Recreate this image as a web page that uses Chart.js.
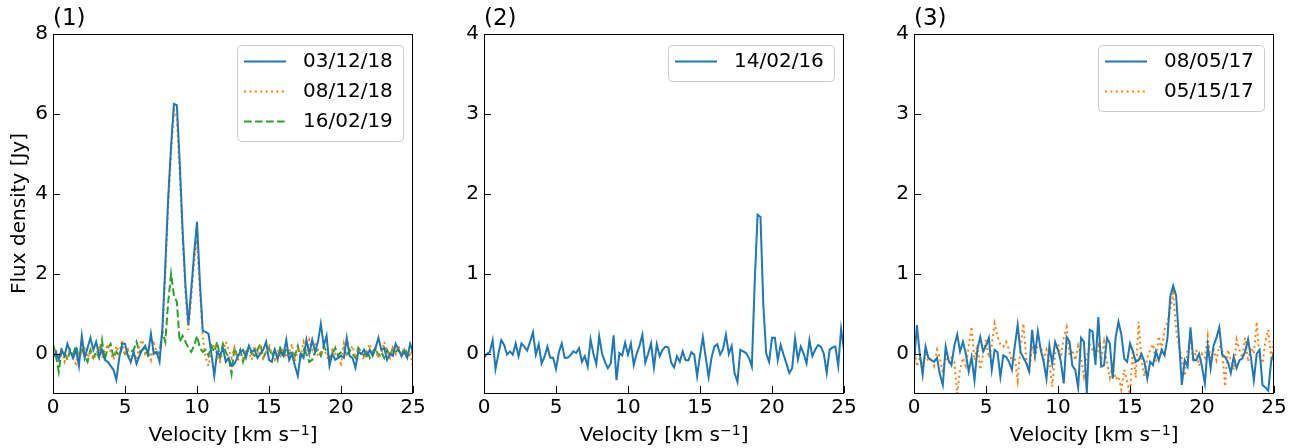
<!DOCTYPE html>
<html>
<head>
<meta charset="utf-8">
<script src="https://cdn.jsdelivr.net/npm/chart.js@4.4.0/dist/chart.umd.min.js"></script>
<style>
  body { margin: 0; background: #fff; width: 1298px; height: 448px; overflow: hidden; position: relative; }
  .panel { position: absolute; top: 0; width: 430px; height: 448px; }
</style>
</head>
<body>
<div class="panel" style="left:0px"><canvas id="spec1" width="430" height="448"></canvas></div>
<div class="panel" style="left:431px"><canvas id="spec2" width="430" height="448"></canvas></div>
<div class="panel" style="left:861px"><canvas id="spec3" width="430" height="448"></canvas></div>
<script>
// velocity channels, km/s
let velocity = [
    0.0, 0.2, 0.4, 0.6, 0.8, 1.0, 1.2, 1.4, 1.6, 1.8,
    2.0, 2.2, 2.4, 2.6, 2.8, 3.0, 3.2, 3.4, 3.6, 3.8,
    4.0, 4.2, 4.4, 4.6, 4.8, 5.0, 5.2, 5.4, 5.6, 5.8,
    6.0, 6.2, 6.4, 6.6, 6.8, 7.0, 7.2, 7.4, 7.6, 7.8,
    8.0, 8.2, 8.4, 8.6, 8.8, 9.0, 9.2, 9.4, 9.6, 9.8,
    10.0, 10.2, 10.4, 10.6, 10.8, 11.0, 11.2, 11.4, 11.6, 11.8,
    12.0, 12.2, 12.4, 12.6, 12.8, 13.0, 13.2, 13.4, 13.6, 13.8,
    14.0, 14.2, 14.4, 14.6, 14.8, 15.0, 15.2, 15.4, 15.6, 15.8,
    16.0, 16.2, 16.4, 16.6, 16.8, 17.0, 17.2, 17.4, 17.6, 17.8,
    18.0, 18.2, 18.4, 18.6, 18.8, 19.0, 19.2, 19.4, 19.6, 19.8,
    20.0, 20.2, 20.4, 20.6, 20.8, 21.0, 21.2, 21.4, 21.6, 21.8,
    22.0, 22.2, 22.4, 22.6, 22.8, 23.0, 23.2, 23.4, 23.6, 23.8,
    24.0, 24.2, 24.4, 24.6, 24.8, 25.0
];

// (1) flux density [Jy]
let flux_031218 = [
    -0.10, 0.05, -0.15, 0.10, -0.05, 0.25, 0.05, -0.10, 0.10, -0.30,
    0.45, -0.10, 0.15, 0.40, 0.10, 0.30, -0.05, 0.10, -0.15, -0.20,
    -0.30, -0.40, -0.65, -0.10, 0.25, 0.25, -0.05, -0.20, 0.05, -0.25,
    -0.05, 0.10, 0.20, 0.00, 0.50, 0.00, 0.05, -0.20, 0.65, 2.20,
    3.90, 5.20, 6.25, 6.22, 4.80, 3.10, 1.70, 0.73, 1.60, 2.50,
    3.30, 1.80, 0.57, 0.55, 0.50, 0.00, -0.55, 0.05, -0.05, 0.15,
    -0.20, -0.10, -0.30, -0.25, -0.10, 0.05, 0.10, -0.10, 0.20, 0.05,
    0.10, -0.10, 0.00, 0.10, 0.30, -0.15, -0.20, 0.10, -0.10, 0.05,
    -0.05, 0.35, -0.15, 0.00, -0.30, -0.55, 0.00, -0.10, 0.35, 0.00,
    0.35, 0.05, 0.30, 0.75, 0.20, 0.45, -0.30, 0.00, -0.15, -0.10,
    -0.05, -0.10, 0.40, -0.05, -0.10, -0.35, 0.05, 0.00, 0.10, -0.05,
    0.10, -0.05, 0.15, 0.40, 0.10, 0.15, -0.15, 0.00, -0.05, 0.25,
    0.10, -0.05, 0.05, -0.10, 0.25, 0.05
];
let flux_081218 = [
    0.20, 0.10, -0.10, 0.15, -0.20, -0.05, 0.10, -0.15, -0.25, 0.05,
    -0.05, 0.20, -0.10, 0.05, -0.15, 0.00, 0.15, -0.10, 0.05, 0.25,
    0.05, -0.15, 0.20, 0.00, 0.35, -0.05, 0.10, -0.20, 0.05, -0.15,
    0.20, 0.35, 0.00, 0.10, -0.15, 0.25, 0.05, -0.05, 0.50, 2.00,
    3.70, 5.00, 6.10, 5.90, 4.50, 2.90, 1.50, 0.60, 1.40, 2.30,
    2.85, 1.60, 0.40, -0.10, -0.30, 0.10, 0.25, -0.05, -0.20, 0.05,
    0.30, 0.10, -0.10, 0.15, -0.20, 0.00, -0.10, 0.10, 0.05, -0.15,
    0.20, -0.05, 0.15, -0.10, 0.05, 0.25, 0.00, -0.15, 0.10, -0.05,
    0.15, -0.10, 0.05, 0.25, -0.20, 0.10, -0.05, 0.30, 0.05, 0.35,
    0.10, 0.30, -0.05, 0.05, 0.15, -0.05, -0.20, 0.10, 0.00, -0.10,
    -0.25, 0.25, -0.05, 0.05, 0.20, -0.10, 0.10, 0.00, -0.15, 0.10,
    0.25, -0.05, 0.10, -0.10, 0.00, 0.30, 0.05, -0.10, 0.15, 0.00,
    0.20, -0.05, 0.10, -0.10, 0.05, -0.35
];
let flux_160219 = [
    0.25, -0.05, -0.45, 0.10, 0.05, -0.15, 0.10, 0.00, 0.20, -0.10,
    0.15, -0.05, -0.20, 0.10, -0.10, 0.05, -0.10, 0.35, -0.15, 0.15,
    0.25, -0.10, 0.05, -0.05, 0.15, 0.00, 0.10, 0.05, 0.10, 0.30,
    0.05, 0.10, 0.15, -0.05, 0.00, 0.05, 0.00, 0.05, 0.55, 0.30,
    1.30, 2.00, 1.45, 1.30, 0.30, 0.45, 0.30, 0.15, 0.05, 0.20,
    0.45, 0.15, 0.05, 0.10, -0.05, 0.20, 0.05, 0.30, -0.10, 0.25,
    0.05, -0.10, -0.50, 0.15, -0.05, 0.10, -0.20, 0.05, 0.15, 0.00,
    -0.05, 0.10, 0.25, -0.10, 0.05, 0.15, -0.05, 0.10, -0.15, 0.20,
    -0.10, 0.15, 0.00, 0.05, -0.05, 0.20, -0.10, 0.10, 0.00, -0.20,
    -0.15, 0.05, 0.10, -0.05, 0.20, 0.05, -0.10, 0.00, 0.15, -0.05,
    0.05, 0.15, -0.05, 0.10, 0.00, -0.10, 0.15, 0.05, -0.05, 0.10,
    -0.10, 0.05, 0.15, -0.05, 0.05, -0.10, 0.10, -0.05, 0.15, 0.05,
    0.10, -0.05, 0.15, 0.00, -0.05, 0.10
];

// (2)
let flux_140216 = [
    -0.05, 0.00, 0.02, 0.17, -0.19, 0.00, 0.17, 0.11, -0.01, 0.03,
    -0.01, 0.13, -0.03, 0.13, 0.09, 0.04, 0.15, 0.27, -0.01, 0.12,
    -0.12, -0.04, 0.09, -0.05, -0.05, -0.19, 0.02, 0.13, -0.05, -0.05,
    -0.02, 0.03, 0.01, 0.07, -0.10, -0.03, -0.16, 0.18, 0.00, -0.13,
    0.22, 0.00, -0.10, -0.18, -0.12, 0.23, -0.33, 0.01, -0.02, 0.14,
    -0.01, 0.13, -0.14, 0.00, 0.10, 0.24, -0.11, 0.00, 0.13, -0.17,
    0.12, -0.03, 0.05, 0.09, 0.08, -0.11, -0.17, -0.03, -0.10, 0.03,
    -0.08, -0.08, 0.02, -0.01, -0.28, -0.02, 0.21, -0.05, -0.29, -0.05,
    0.09, 0.12, -0.01, 0.06, 0.24, 0.00, 0.10, -0.24, -0.35, 0.05,
    0.03, 0.01, -0.05, -0.16, 0.90, 1.74, 1.71, 0.60, 0.00, -0.10,
    0.20, 0.20, -0.08, 0.11, -0.01, -0.12, -0.24, -0.18, 0.19, -0.07,
    0.09, 0.00, -0.12, 0.17, -0.03, 0.05, 0.11, 0.09, 0.00, -0.24,
    0.05, 0.08, 0.09, -0.15, 0.31, 0.05
];

// (3)
let flux_080517 = [
    -0.14, 0.36, 0.00, -0.26, 0.09, -0.05, -0.08, -0.10, -0.05, -0.26,
    -0.39, 0.09, -0.08, -0.14, 0.10, 0.24, 0.03, 0.15, 0.00, -0.22,
    -0.04, -0.33, 0.05, 0.21, 0.03, 0.10, 0.20, -0.20, 0.05, 0.02,
    -0.29, -0.02, -0.04, -0.10, -0.20, 0.10, 0.36, 0.02, -0.05, -0.12,
    -0.22, 0.30, -0.01, 0.28, 0.05, -0.10, -0.31, 0.10, -0.12, 0.15,
    0.05, -0.10, -0.37, 0.21, 0.15, -0.15, -0.20, -0.42, 0.20, 0.15,
    -0.49, 0.30, 0.28, -0.14, 0.46, -0.16, -0.14, 0.20, 0.13, -0.31,
    0.20, 0.40, 0.24, -0.06, -0.10, 0.13, 0.03, -0.10, -0.08, 0.00,
    -0.10, -0.31, -0.10, -0.14, 0.03, -0.08, 0.05, -0.02, 0.20, 0.72,
    0.85, 0.73, 0.18, -0.39, -0.08, -0.16, 0.33, -0.08, -0.08, 0.00,
    -0.16, -0.37, 0.10, -0.18, 0.10, 0.20, 0.33, -0.01, -0.04, -0.10,
    -0.24, -0.04, -0.18, -0.08, -0.06, 0.03, 0.18, -0.05, -0.33, 0.00,
    0.05, -0.39, -0.42, -0.46, -0.10, 0.02
];
let flux_051517 = [
    0.09, -0.16, -0.05, -0.14, 0.00, -0.10, -0.05, -0.15, 0.05, -0.05,
    -0.24, 0.00, -0.12, -0.05, -0.10, -0.50, -0.20, -0.05, -0.15, 0.10,
    0.34, -0.08, 0.12, -0.20, 0.00, 0.18, -0.05, 0.10, 0.38, 0.22,
    0.12, 0.09, 0.15, 0.05, -0.10, -0.05, -0.33, 0.10, 0.38, -0.08,
    -0.24, 0.10, -0.05, 0.12, 0.10, -0.08, 0.05, -0.10, -0.41, 0.00,
    0.12, -0.05, 0.20, 0.33, -0.02, 0.05, -0.08, 0.10, -0.05, -0.28,
    -0.05, 0.12, 0.05, -0.05, 0.10, -0.08, 0.15, -0.10, -0.30, -0.15,
    -0.32, -0.28, -0.45, -0.20, -0.35, -0.50, 0.05, -0.30, 0.40, -0.08,
    -0.28, -0.05, 0.05, 0.12, -0.10, 0.22, 0.05, 0.30, 0.40, 0.55,
    0.76, 0.30, 0.09, -0.05, -0.28, 0.05, 0.18, -0.10, 0.05, -0.15,
    0.00, -0.05, 0.22, -0.10, 0.05, -0.08, 0.10, 0.05, -0.41, 0.05,
    -0.08, -0.20, 0.18, 0.05, -0.05, 0.20, -0.10, 0.08, 0.00, 0.40,
    -0.05, -0.12, 0.15, 0.30, -0.05, 0.20
];

let velocity_ticks = [0, 5, 10, 15, 20, 25];
let flux_ticks_1 = [0, 2, 4, 6, 8];
let flux_ticks_23 = [0, 1, 2, 3, 4];

let FONT = "'DejaVu Sans', sans-serif";
let FS = 20;
let BLUE = "#1f77b4", ORANGE = "#ff7f0e", GREEN = "#2ca02c";

Chart.defaults.font.family = FONT;
Chart.defaults.color = "#000";

let series = (label, values, color, dash) => ({
    label: label,
    data: velocity.map((v, i) => ({ x: v, y: values[i] })),
    borderColor: color,
    borderWidth: 2,
    borderDash: dash,
    borderCapStyle: "butt",
    pointRadius: 0,
    tension: 0,
    fill: false,
    clip: 0
});

// x label with a raised "-1" exponent, centred under the plot
let drawVelocityLabel = (ctx, cx, baseline) => {
    let head = "Velocity [km s", exp = "\u22121", tail = "]";
    let small = FS * 0.7;
    ctx.font = FS + "px " + FONT;
    let w1 = ctx.measureText(head).width, w3 = ctx.measureText(tail).width;
    ctx.font = small + "px " + FONT;
    let w2 = ctx.measureText(exp).width;
    let x0 = cx - (w1 + w2 + w3) / 2;
    ctx.textAlign = "left";
    ctx.textBaseline = "alphabetic";
    ctx.font = FS + "px " + FONT;
    ctx.fillText(head, x0, baseline);
    ctx.font = small + "px " + FONT;
    ctx.fillText(exp, x0 + w1, baseline - FS * 0.32);
    ctx.font = FS + "px " + FONT;
    ctx.fillText(tail, x0 + w1 + w2, baseline);
};

// frame, inward ticks, panel tag and legend box drawn over the lines
let panelDecor = {
    id: "panelDecor",
    afterDatasetsDraw(chart, args, opts) {
        let ctx = chart.ctx, a = chart.chartArea;
        let xs = chart.scales.x, ys = chart.scales.y;
        ctx.save();
        ctx.setLineDash([]);
        ctx.strokeStyle = "#000";
        ctx.lineWidth = 1;
        ctx.beginPath();
        xs.ticks.forEach(t => {
            let px = Math.round(xs.getPixelForValue(t.value)) + 0.5;
            ctx.moveTo(px, a.bottom);
            ctx.lineTo(px, a.bottom - 7);
        });
        ys.ticks.forEach(t => {
            let py = Math.round(ys.getPixelForValue(t.value)) + 0.5;
            ctx.moveTo(a.left, py);
            ctx.lineTo(a.left + 7, py);
        });
        ctx.stroke();
        ctx.strokeRect(Math.round(a.left) + 0.5, Math.round(a.top) + 0.5,
            Math.round(a.right - a.left) - 1, Math.round(a.bottom - a.top));

        // panel tag
        ctx.fillStyle = "#000";
        ctx.font = "23px " + FONT;
        ctx.textAlign = "left";
        ctx.textBaseline = "alphabetic";
        ctx.fillText(opts.tag, a.left, 25);

        drawVelocityLabel(ctx, (a.left + a.right) / 2, 441);

        // legend
        ctx.font = FS + "px " + FONT;
        let sets = chart.data.datasets;
        let bw = 166, bh = 6 + 30 * sets.length;
        let bx = a.right - 10 - bw, by = a.top + 11;
        ctx.beginPath();
        ctx.roundRect(bx + 0.5, by + 0.5, bw, bh, 4);
        ctx.fillStyle = "rgba(255,255,255,0.8)";
        ctx.fill();
        ctx.strokeStyle = "#cccccc";
        ctx.stroke();
        sets.forEach((ds, i) => {
            let cy = by + 16.5 + 30 * i;
            ctx.strokeStyle = ds.borderColor;
            ctx.lineWidth = ds.borderWidth;
            ctx.lineCap = "butt";
            ctx.setLineDash(ds.borderDash || []);
            ctx.beginPath();
            ctx.moveTo(bx + 7, cy);
            ctx.lineTo(bx + 49, cy);
            ctx.stroke();
            ctx.fillStyle = "#000";
            ctx.textBaseline = "middle";
            ctx.fillText(ds.label, bx + 66, cy);
        });
        ctx.restore();
    }
};

let plotSpectrum = (canvasId, tag, datasets, yMin, yMax, yTicks, yTitle) => {
    let context = document.getElementById(canvasId).getContext("2d");
    return new Chart(context, {
        type: "line",
        data: { datasets: datasets },
        plugins: [panelDecor],
        options: {
            responsive: false,
            animation: false,
            events: [],
            layout: { padding: { top: 34, right: 17, left: 0, bottom: 0 } },
            plugins: {
                legend: { display: false },
                tooltip: { enabled: false },
                panelDecor: { tag: tag }
            },
            scales: {
                x: {
                    type: "linear",
                    min: 0,
                    max: 25,
                    afterBuildTicks: s => { s.ticks = velocity_ticks.map(v => ({ value: v })); },
                    afterFit: s => { s.height = 55; },
                    grid: { display: false, drawTicks: false },
                    border: { display: false },
                    ticks: { padding: 3, font: { size: FS }, maxRotation: 0 },
                    title: { display: false }
                },
                y: {
                    type: "linear",
                    min: yMin,
                    max: yMax,
                    afterBuildTicks: s => { s.ticks = yTicks.map(v => ({ value: v })); },
                    afterFit: s => { s.width = 53; },
                    grid: { display: false, drawTicks: false },
                    border: { display: false },
                    ticks: { padding: 5, font: { size: FS } },
                    title: {
                        display: !!yTitle,
                        text: yTitle || "",
                        font: { size: FS },
                        padding: { top: 8, bottom: 0 }
                    }
                }
            }
        }
    });
};

plotSpectrum("spec1", "(1)", [
    series("03/12/18", flux_031218, BLUE, []),
    series("08/12/18", flux_081218, ORANGE, [2, 3.4]),
    series("16/02/19", flux_160219, GREEN, [7.7, 3.3])
], -0.98, 8, flux_ticks_1, "Flux density [Jy]");

plotSpectrum("spec2", "(2)", [
    series("14/02/16", flux_140216, BLUE, [])
], -0.49, 4, flux_ticks_23, null);

plotSpectrum("spec3", "(3)", [
    series("08/05/17", flux_080517, BLUE, []),
    series("05/15/17", flux_051517, ORANGE, [2, 3.4])
], -0.49, 4, flux_ticks_23, null);
</script>
</body>
</html>
